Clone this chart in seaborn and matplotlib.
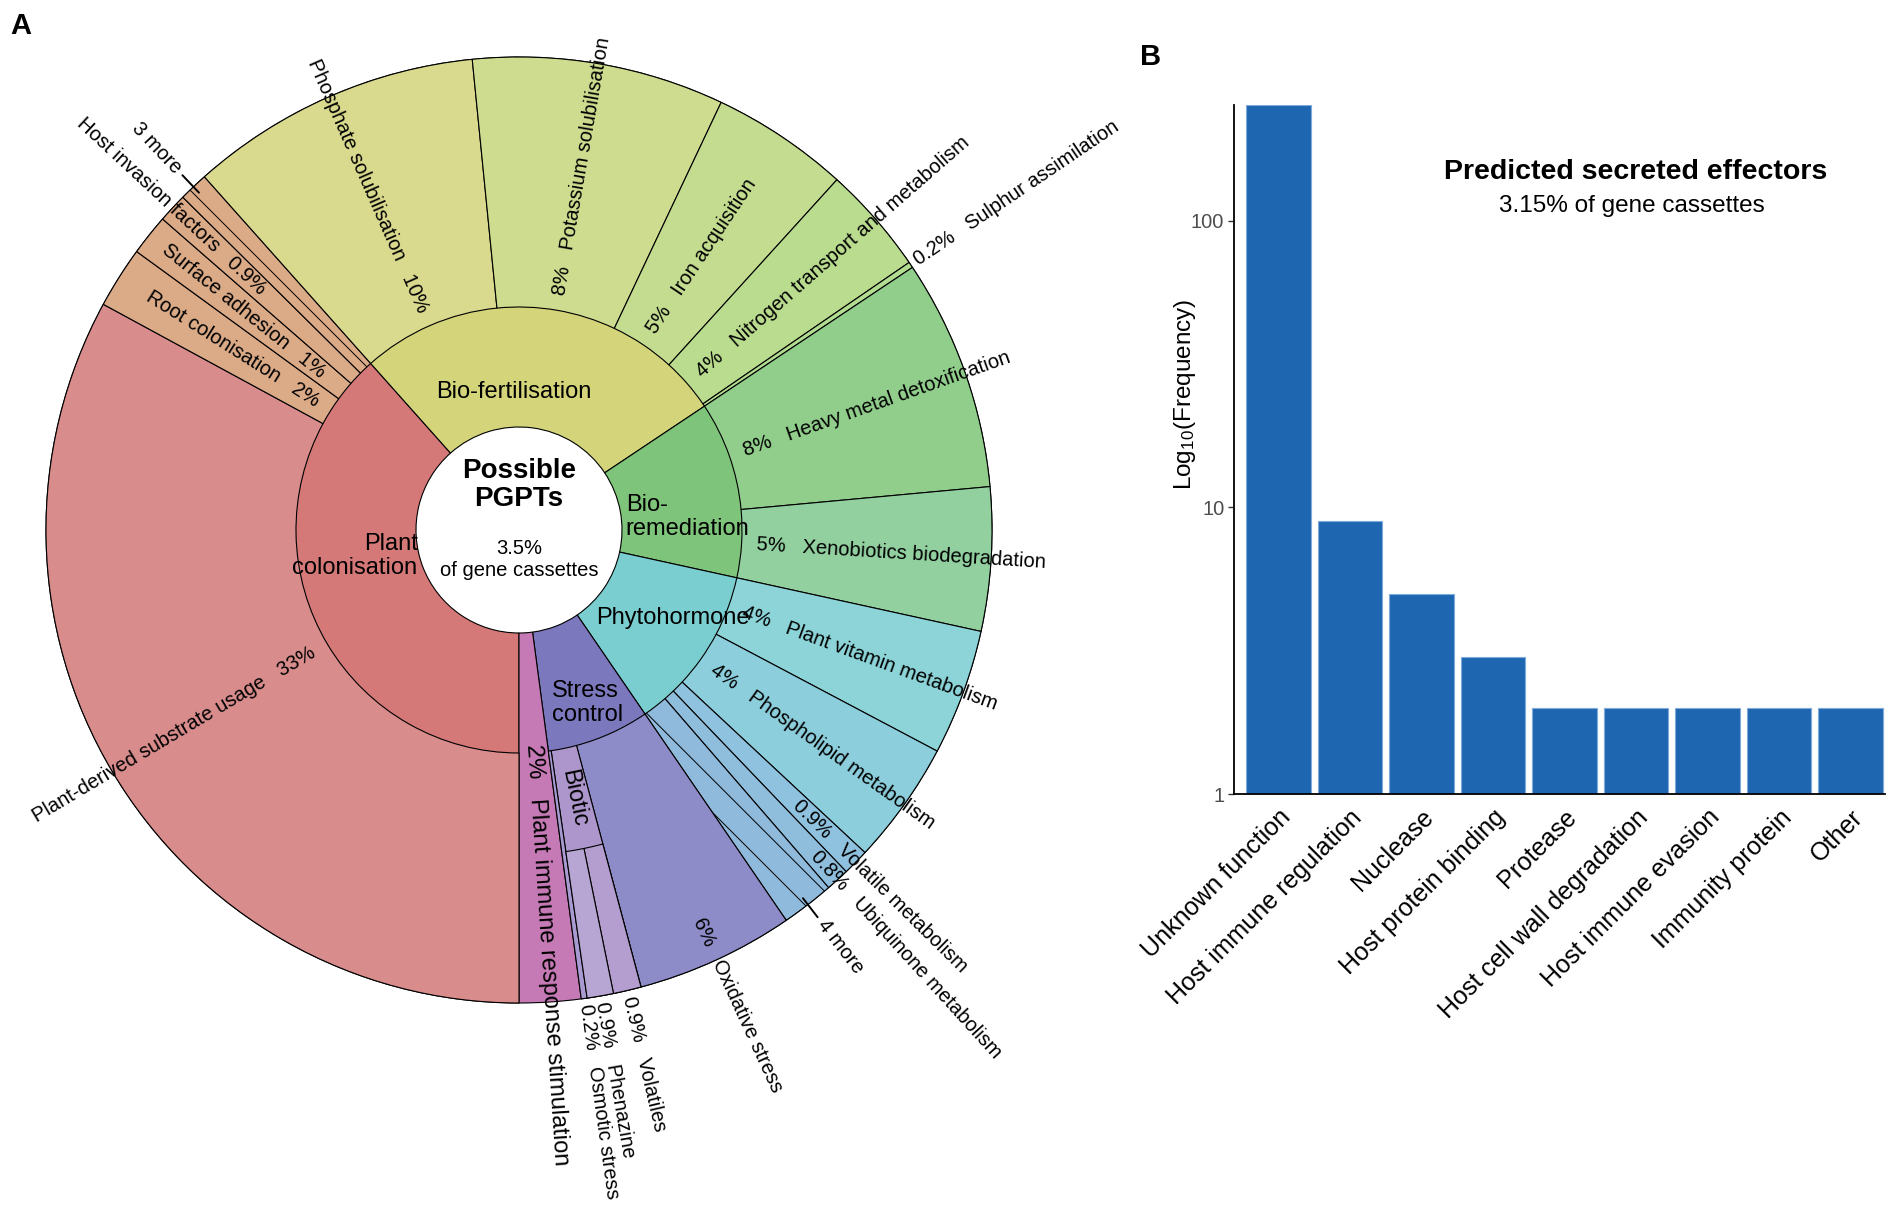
import numpy as np
import pandas as pd
import matplotlib
matplotlib.use("Agg")
import matplotlib.pyplot as plt
from matplotlib.ticker import NullLocator
import seaborn as sns

# ---- panel A: possible PGPTs (Krona style), share of PGPT cassettes in % ----
top_names = ["Plant colonisation", "Bio-fertilisation", "Bio-remediation",
             "Phytohormone", "Stress control", "Plant immune response stimulation"]
top_text = ["Plant\ncolonisation", "Bio-fertilisation", "Bio-\nremediation",
            "Phytohormone", "Stress\ncontrol", "Plant immune response stimulation"]
top_colors = ["#D57878", "#D4D47A", "#7EC47A", "#7ACED0", "#7C78BE", "#C57AB6"]

sub_parent = (["Plant colonisation"] * 5 + ["Bio-fertilisation"] * 5 + ["Bio-remediation"] * 2
              + ["Phytohormone"] * 5 + ["Stress control"] * 3
              + ["Plant immune response stimulation"])
sub_names = ["Plant-derived substrate usage", "Root colonisation", "Surface adhesion",
             "Host invasion factors", "3 more",
             "Phosphate solubilisation", "Potassium solubilisation", "Iron acquisition",
             "Nitrogen transport and metabolism", "Sulphur assimilation",
             "Heavy metal detoxification", "Xenobiotics biodegradation",
             "Plant vitamin metabolism", "Phospholipid metabolism", "Volatile metabolism",
             "Ubiquinone metabolism", "4 more",
             "Oxidative stress", "Biotic", "Osmotic stress",
             "Plant immune response stimulation"]
sub_values = [32.9, 2.1, 1.4, 1.0, 1.0,
              10.0, 8.6, 4.7, 3.7, 0.2,
              7.9, 4.9,
              4.3, 4.2, 0.9, 0.8, 1.8,
              5.4, 0.0, 0.2,
              2.1]
sub_pct = ["33%", "2%", "1%", "0.9%", "",
           "10%", "8%", "5%", "4%", "0.2%",
           "8%", "5%",
           "4%", "4%", "0.9%", "0.8%", "",
           "6%", "", "0.2%",
           "2%"]
sub_colors = ["#D88C8C", "#DBAA87", "#DBAA87", "#DBAA87", "#DBAA87",
              "#DADA8F", "#CEDC8F", "#C4DC8F", "#BADC8F", "#B2DC8F",
              "#91CE8C", "#92D0A0",
              "#8CD4D8", "#8CCEDC", "#8FC2DF", "#8FBEDD", "#8FBADC",
              "#8E8CC8", "#AD96CC", "#A99BD2",
              "#C57AB6"]

biotic_names = ["Volatiles", "Phenazine"]
biotic_values = [0.95, 0.9]
biotic_pct = ["0.9%", "0.9%"]
biotic_colors = ["#B49ECF", "#B7A5D3"]

# ---- panel B: predicted secreted effectors ----
effector_names = ["Unknown function", "Host immune regulation", "Nuclease",
                  "Host protein binding", "Protease", "Host cell wall degradation",
                  "Host immune evasion", "Immunity protein", "Other"]
effector_counts = [254, 9, 5, 3, 2, 2, 2, 2, 2]

sns.set_theme(style="ticks")
plt.rcParams["font.family"] = ["Liberation Sans", "DejaVu Sans"]
plt.rcParams["mathtext.fontset"] = "custom"
plt.rcParams["mathtext.rm"] = "Liberation Sans"
plt.rcParams["mathtext.it"] = "Liberation Sans:italic"
plt.rcParams["text.color"] = "black"
plt.rcParams["hatch.linewidth"] = 0.7

df = pd.DataFrame({"parent": sub_parent, "name": sub_names, "value": sub_values,
                   "pct": sub_pct, "color": sub_colors})
df.loc[df["name"] == "Biotic", "value"] = sum(biotic_values)
top_values = df.groupby("parent", sort=False)["value"].sum().reindex(top_names).tolist()

W, H = 1901, 1207
fig = plt.figure(figsize=(W / 100, H / 100), dpi=100)
ax = fig.add_axes([0, 0, 1, 1])

cx, cy = 519, H - 530
R0, R1, RB, R2 = 103, 223, 325, 473
edge = dict(edgecolor="black", linewidth=0.8)
pie_kw = dict(center=(cx, cy), startangle=270, counterclock=False)

# level 1 drawn full depth (the pink one has no children)
w_top, _ = ax.pie(top_values, radius=R2, colors=top_colors,
                  wedgeprops=dict(width=R2 - R0, **edge), **pie_kw)
# level 2
w_sub, _ = ax.pie(df["value"].tolist(), radius=R2, colors=df["color"].tolist(),
                  wedgeprops=dict(width=R2 - R1, **edge), **pie_kw)
w_sub[-1].set_visible(False)
for w, name in zip(w_sub, df["name"]):
    if name.endswith("more"):
        w.set_hatch("\\")

# level 3 (children of Biotic only)
l3_values, l3_colors, l3_show = [], [], []
for name, v, c in zip(df["name"], df["value"], df["color"]):
    if name == "Biotic":
        l3_values += biotic_values
        l3_colors += biotic_colors
        l3_show += [True] * len(biotic_values)
    else:
        l3_values.append(v)
        l3_colors.append(c)
        l3_show.append(False)
w_l3, _ = ax.pie(l3_values, radius=R2, colors=l3_colors,
                 wedgeprops=dict(width=R2 - RB, **edge), **pie_kw)
for w, s in zip(w_l3, l3_show):
    w.set_visible(s)


def radial_text(theta, r, name, pct="", size=14.5, ha=None):
    t = np.deg2rad(theta)
    x, y = cx + r * np.cos(t), cy + r * np.sin(t)
    a = (theta + 180) % 360 - 180
    right = -90.5 <= a <= 90
    rot = a if right else (a - 180 if a > 0 else a + 180)
    if ha is None:
        ha = "left" if right else "right"
        if pct:
            s = f"{pct}   {name}" if right else f"{name}   {pct}"
        else:
            s = name
    else:
        s = name
    ax.text(x, y, s, rotation=rot, rotation_mode="anchor", ha=ha, va="center",
            fontsize=size)


label_r = {"Oxidative stress": 428, "Volatiles": R2 + 6, "Phenazine": R2 + 6}

for w, name, pct in zip(w_sub, df["name"], df["pct"]):
    th = 0.5 * (w.theta1 + w.theta2)
    span = np.deg2rad(w.theta2 - w.theta1)
    if name == "Plant immune response stimulation":
        continue
    if name == "Biotic":
        radial_text(th, (R1 + RB) / 2, name, size=17, ha="center")
        continue
    if name.endswith("more"):
        t = np.deg2rad(th)
        ax.plot([cx + (R2 - 8) * np.cos(t), cx + (R2 + 16) * np.cos(t)],
                [cy + (R2 - 8) * np.sin(t), cy + (R2 + 16) * np.sin(t)],
                color="black", lw=1.4)
        radial_text(th, R2 + 22, name)
        continue
    r = max(R1 + 15, 22 / span)
    if r > R2 - 35:
        r = R2 + 6
    radial_text(th, label_r.get(name, r), name, pct)

for w, name, pct in zip([w for w, s in zip(w_l3, l3_show) if s], biotic_names, biotic_pct):
    th = 0.5 * (w.theta1 + w.theta2)
    radial_text(th, label_r[name], name, pct)

# pink top-level leaf label
w = w_top[-1]
radial_text(0.5 * (w.theta1 + w.theta2), 215, top_names[-1], df["pct"].iloc[-1], size=17)

# level-1 labels (horizontal)
inner_at = {"Plant colonisation": (189, 166, "right"), "Bio-fertilisation": (92, 138, "center"),
            "Bio-remediation": (4.4, 169, "left"), "Phytohormone": (-29.7, 177, "center"),
            "Stress control": (-68.5, 186, "left")}
for name, txt in zip(top_names[:-1], top_text[:-1]):
    ang, r, al = inner_at[name]
    t = np.deg2rad(ang)
    ax.text(cx + r * np.cos(t), cy + r * np.sin(t), txt, ha="center", va="center",
            multialignment=al, fontsize=17, linespacing=1.15)

ax.text(cx, H - 485, "Possible\nPGPTs", ha="center", va="center", fontsize=20,
        fontweight="bold", linespacing=1.15)
ax.text(cx, H - 559, "3.5%\nof gene cassettes", ha="center", va="center", fontsize=14.5,
        linespacing=1.2)

ax.set_xlim(0, W)
ax.set_ylim(0, H)
ax.set_aspect("equal")
ax.axis("off")

# ---- panel B ----
eff = pd.DataFrame({"function": effector_names, "count": effector_counts})
axb = fig.add_axes([1234 / W, 1 - 794 / H, (1885 - 1234) / W, (794 - 105) / H])
sns.barplot(data=eff, x="function", y="count", color="#1E67B0", saturation=1,
            width=0.9, edgecolor="#7FAADA", linewidth=0.8, ax=axb)
axb.set_yscale("log")
axb.set_ylim(1, 254)
axb.set_xlim(-0.62, 8.48)
axb.set_yticks([1, 10, 100])
axb.set_yticklabels(["1", "10", "100"])
axb.yaxis.set_minor_locator(NullLocator())
sns.despine(ax=axb)
for sp in ["left", "bottom"]:
    axb.spines[sp].set_color("black")
    axb.spines[sp].set_linewidth(1.3)
axb.tick_params(axis="x", length=0, pad=8, labelsize=18, labelcolor="black")
axb.tick_params(axis="y", length=4, width=1, color="#333333", labelsize=14.5,
                labelcolor="#4D4D4D", pad=3)
plt.setp(axb.get_xticklabels(), rotation=45, ha="right", rotation_mode="anchor")
axb.set_xlabel("")
axb.set_ylabel(r"Log$_{\mathregular{10}}$(Frequency)", fontsize=17.5, color="black")
axb.yaxis.set_label_coords(-0.055, 0.58)

fig.text(1636 / W, 1 - 172 / H, "Predicted secreted effectors", ha="center", va="center",
         fontsize=20.5, fontweight="bold")
fig.text(1632 / W, 1 - 206 / H, "3.15% of gene cassettes", ha="center", va="center",
         fontsize=17.5)

fig.text(10 / W, 1 - 26 / H, "A", fontsize=21, fontweight="bold", va="center")
fig.text(1140 / W, 1 - 57 / H, "B", fontsize=21, fontweight="bold", va="center")

fig.savefig("out.png", dpi=100, facecolor="white")
